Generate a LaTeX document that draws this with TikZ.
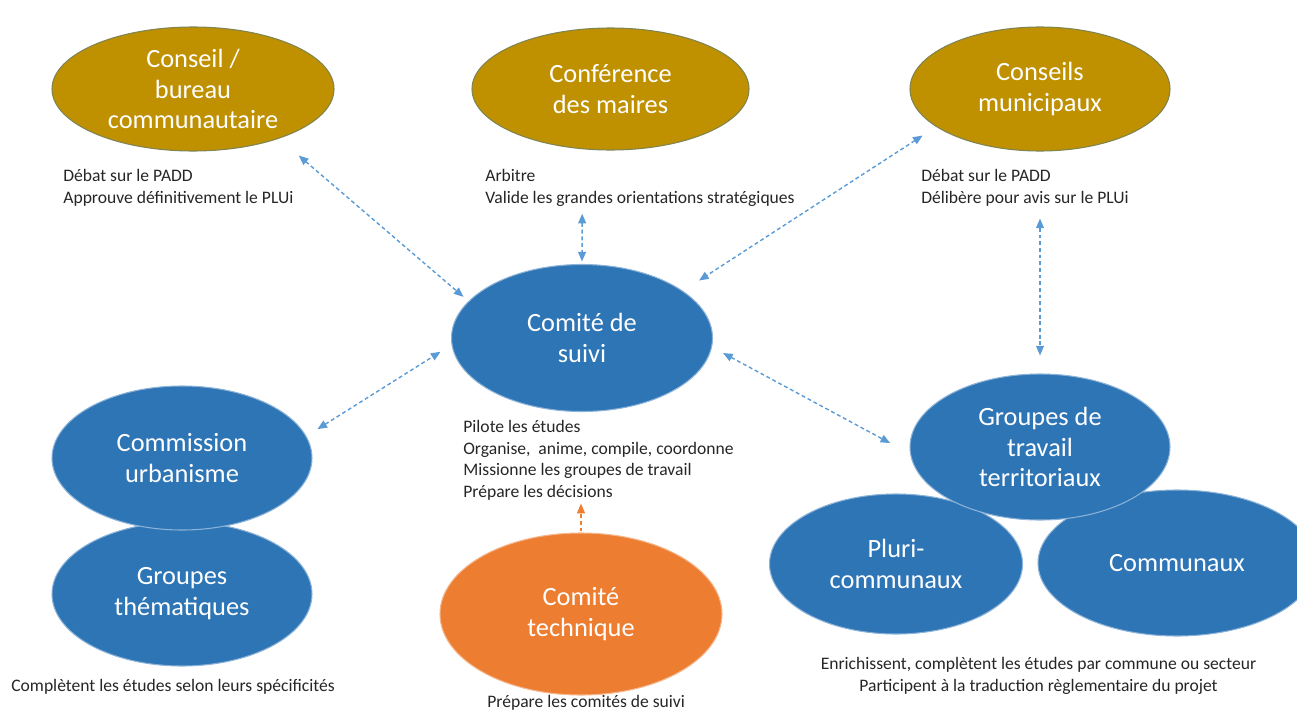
\documentclass[tikz,border=0pt]{standalone}
\usepackage{fontspec}
\setmainfont{Carlito}
\usetikzlibrary{shapes.geometric,arrows.meta}
\definecolor{ocre}{HTML}{BF9000}
\definecolor{bleu}{HTML}{2E75B6}
\definecolor{orangeoff}{HTML}{ED7D31}
\definecolor{lienbleu}{HTML}{5B9BD5}
\begin{document}
\begin{tikzpicture}[
  bulle/.style={ellipse, inner sep=0pt, text=white, align=center, line width=0.6pt, font=\fontsize{15}{17.6}\selectfont},
  ocrebulle/.style={bulle, fill=ocre, draw=ocre!55!bleu},
  bleubulle/.style={bulle, fill=bleu, draw=white!45!bleu},
  orangebulle/.style={bulle, fill=orangeoff, draw=white!45!orangeoff},
  legende/.style={inner sep=0pt, align=left, text=black!85, font=\fontsize{10}{12.3}\selectfont},
  lien/.style={draw=lienbleu, line width=0.8pt, dash pattern=on 2.2pt off 1.6pt, {Triangle[length=5.5pt,width=4.5pt]}-{Triangle[length=5.5pt,width=4.5pt]}},
  lienorange/.style={draw=orangeoff, line width=0.8pt, dash pattern=on 2.2pt off 1.6pt, -{Triangle[length=5.5pt,width=4.5pt]}}
]
\useasboundingbox (0,0) rectangle (25.94,-14.2);
\node[ocrebulle, minimum width=5.64cm, minimum height=2.48cm] (conseil) at (3.86,-1.78) {Conseil /\\bureau\\communautaire};
\node[ocrebulle, minimum width=5.54cm, minimum height=2.44cm] (conference) at (12.21,-1.78) {Conférence\\des maires};
\node[ocrebulle, minimum width=5.2cm, minimum height=2.48cm] (municipaux) at (20.8,-1.78) {Conseils\\municipaux};
\node[bleubulle, minimum width=5.22cm, minimum height=2.94cm] (suivi) at (11.64,-6.76) {Comité de\\suivi};
\node[bleubulle, minimum width=5.2cm, minimum height=2.88cm] (thematiques) at (3.64,-11.88) {Groupes\\thématiques};
\node[bleubulle, minimum width=5.2cm, minimum height=2.88cm] (commission) at (3.64,-9.16) {Commission\\urbanisme};
\node[orangebulle, minimum width=5.64cm, minimum height=3.24cm] (technique) at (11.62,-12.28) {Comité\\technique};
\node[bleubulle, minimum width=5.06cm, minimum height=2.8cm] (pluri) at (17.92,-11.28) {Pluri-\\communaux};
\node[bleubulle, minimum width=5.56cm, minimum height=2.92cm] (communaux) at (23.54,-11.26) {Communaux};
\node[bleubulle, minimum width=5.2cm, minimum height=2.92cm] (territoriaux) at (20.8,-8.94) {Groupes de\\travail\\territoriaux};
\node[legende, anchor=north west] (conseiltexte) at (1.26,-3.38) {Débat sur le PADD\\Approuve définitivement le PLUi};
\node[legende, anchor=north west] (conferencetexte) at (9.70,-3.38) {Arbitre\\Valide les grandes orientations stratégiques};
\node[legende, anchor=north west] (municipauxtexte) at (18.42,-3.38) {Débat sur le PADD\\Délibère pour avis sur le PLUi};
\node[legende, anchor=north west] (suivitexte) at (9.26,-8.40) {Pilote les études\\Organise,\ \ anime, compile, coordonne\\Missionne les groupes de travail\\Prépare les décisions};
\node[legende, anchor=north west] (thematiquestexte) at (0.22,-13.58) {Complètent les études selon leurs spécificités};
\node[legende, anchor=north, align=center] (territoriauxtexte) at (20.77,-13.14) {Enrichissent, complètent les études par commune ou secteur\\Participent à la traduction règlementaire du projet};
\node[legende, anchor=north west] (techniquetexte) at (9.74,-13.90) {Prépare les comités de suivi};
\draw[lien, shorten <=0.52cm, shorten >=0.13cm] (conseil.-30) -- (suivi.162.6);
\draw[lien, shorten <=1.29cm, shorten >=0.05cm] (conference.-115.5) -- (suivi.north);
\draw[lien, shorten <=0.32cm, shorten >=0.38cm] (municipaux.-160.2) -- (suivi.25.7);
\draw[lien, shorten <=1.34cm, shorten >=0.36cm] (municipaux.south) -- (territoriaux.north);
\draw[lien, shorten <=0.26cm, shorten >=0.26cm] (commission.10.8) -- (suivi.183.6);
\draw[lien, shorten <=0.25cm, shorten >=0.45cm] (suivi.-4.9) -- (territoriaux.183.8);
\draw[lienorange, shorten <=0.02cm, shorten >=0.06cm] (technique.north) -- (technique.north |- suivitexte.south);
\end{tikzpicture}
\end{document}
